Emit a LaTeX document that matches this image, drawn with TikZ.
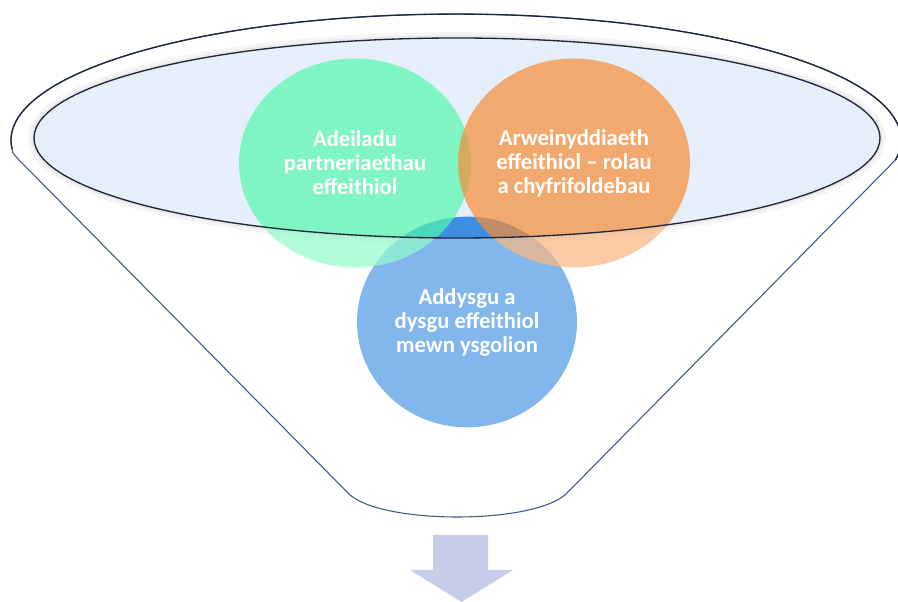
\documentclass[tikz,border=0pt]{standalone}
\usepackage{fontspec}
\setmainfont{Carlito}
\usetikzlibrary{shapes.geometric}
\definecolor{mint}{RGB}{84,248,173}
\definecolor{peach}{RGB}{247,141,53}
\definecolor{sky}{RGB}{61,143,227}
\definecolor{opening}{RGB}{230,238,250}
\definecolor{rimline}{RGB}{30,38,58}
\definecolor{wallline}{RGB}{62,88,128}
\definecolor{arrowfill}{RGB}{197,205,234}
\tikzset{bubble/.style={ellipse, inner sep=0, text=white, text opacity=1, align=center, font=\fontsize{17}{18}\selectfont\bfseries}}
\tikzset{disc/.style={bubble, minimum width=174pt, minimum height=156.75pt, fill opacity=0.7}}

\begin{document}
\begin{tikzpicture}[x=0.75pt, y=0.75pt]
  \useasboundingbox (0,0) rectangle (898,602);
  \coordinate (c) at (457,464);
  \coordinate (rr) at (895.4,442);

  \draw[gray!12, line width=9pt] (c) ellipse [x radius=423, y radius=100];
  \draw[gray!25, line width=4pt] (c) ellipse [x radius=423, y radius=100];
  \fill[opening] (c) ellipse [x radius=423, y radius=100];

  \node [bubble, fill=sky, minimum width=165pt, minimum height=158pt] (teach) at (467,280) {Addysgu a\\dysgu effeithiol\\mewn ysgolion};
  \node [disc, fill=mint] (part) at (355,439) {Adeiladu\\partneriaethau\\effeithiol};
  \node [disc, fill=peach] (lead) at (574,439) {Arweinyddiaeth\\effeithiol – rolau\\a chyfrifoldebau};

  \fill[white, fill opacity=0.36, even odd rule] (0,0) rectangle (898,602) (c) ellipse [x radius=423, y radius=100];
  \draw[rimline, line width=1pt] (c) ellipse [x radius=423, y radius=100];

  \draw[wallline, line width=0.8pt] (rr) arc [start angle=-9.1, end angle=184, x radius=445, y radius=126] .. controls (12,450) .. (18,443) -- (348,109) .. controls (378,77) and (536,77) .. (567,109) -- cycle;
  \draw[rimline, line width=1pt] (rr) arc [start angle=-9.1, end angle=184, x radius=445, y radius=126];

  \fill[arrowfill] (433,67) -- (488,67) -- (488,32) -- (513,32) -- (461.5,0) -- (410,32) -- (433,32) -- cycle;
\end{tikzpicture}
\end{document}
